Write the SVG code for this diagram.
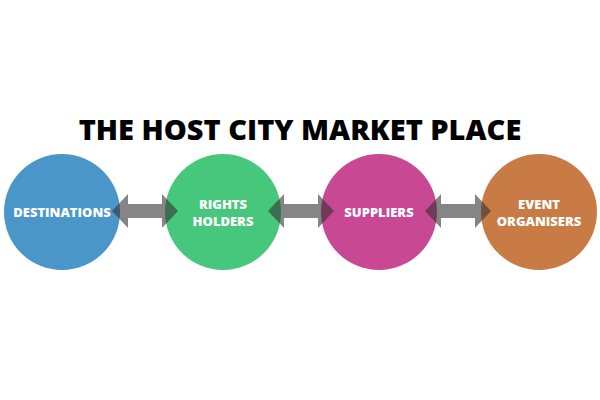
<svg xmlns="http://www.w3.org/2000/svg" width="600" height="400" viewBox="0 0 600 400">
<style>
.t{font-family:"Open Sans","Liberation Sans",sans-serif;font-weight:800;fill:#fff;font-size:13px;text-anchor:middle}
.a{fill:#333;fill-opacity:0.6}
</style>
<defs><path id="arr" d="M0,0 L16,-17 L16,-7 L50,-7 L50,-17 L66,0 L50,17 L50,7 L16,7 L16,17 Z"/></defs>
<rect width="600" height="400" fill="#fff"/>
<text x="300" y="140" font-family="'Open Sans','Liberation Sans',sans-serif" font-weight="800" font-size="29" text-anchor="middle" fill="#000">THE HOST CITY MARKET PLACE</text>
<g id="n1"><circle cx="62" cy="212" r="58" fill="#4a96c9"/><text class="t" x="62" y="217">DESTINATIONS</text></g>
<g id="n2"><circle cx="223" cy="212" r="58" fill="#47c77c"/><text class="t" x="223" y="209">RIGHTS</text><text class="t" x="223" y="226">HOLDERS</text></g>
<g id="n3"><circle cx="379" cy="212" r="58" fill="#c84893"/><text class="t" x="379" y="217">SUPPLIERS</text></g>
<g id="n4"><circle cx="539" cy="212" r="58" fill="#c87b45"/><text class="t" x="539" y="209">EVENT</text><text class="t" x="539" y="226">ORGANISERS</text></g>
<g id="connectors" class="a">
<use href="#arr" x="112" y="211"/>
<use href="#arr" x="268" y="211"/>
<use href="#arr" x="425" y="211"/>
</g>
</svg>
